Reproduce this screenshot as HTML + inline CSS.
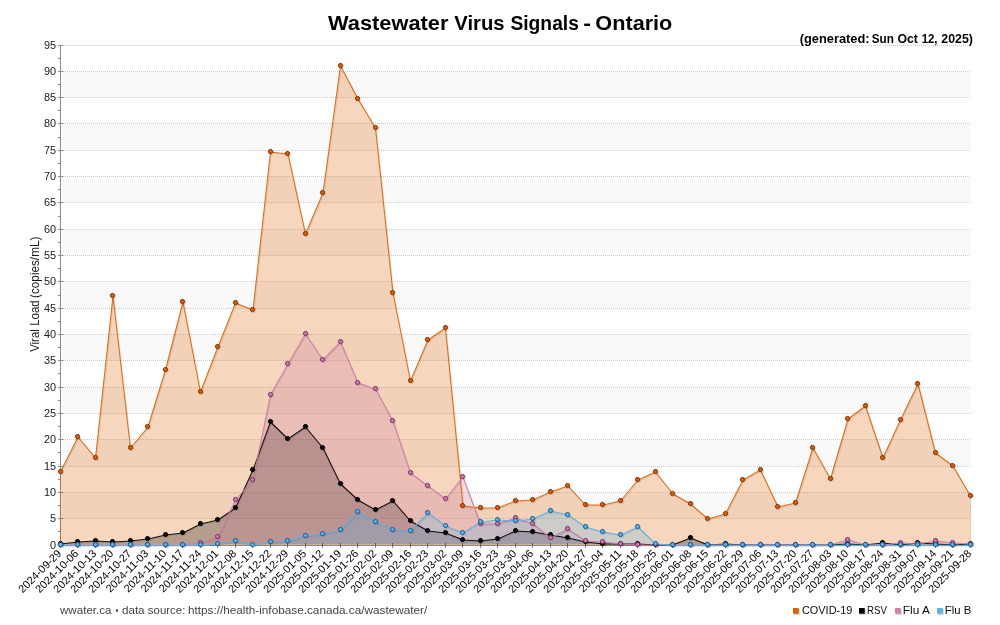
<!DOCTYPE html>
<html lang="en"><head><meta charset="utf-8"><title>Wastewater Virus Signals - Ontario</title>
<style>html,body{margin:0;padding:0;background:#fff;width:1000px;height:625px;overflow:hidden;}svg{display:block;}text{font-family:"Liberation Sans", sans-serif;}</style></head><body>
<svg width="1000" height="625" viewBox="0 0 1000 625" role="img" aria-label="Wastewater Virus Signals - Ontario">
<rect x="0" y="0" width="1000" height="625" fill="#ffffff"/>
<g shape-rendering="crispEdges">
<rect x="62" y="493" width="909" height="25" fill="#f9f9f9"/>
<rect x="62" y="440" width="909" height="26" fill="#f9f9f9"/>
<rect x="62" y="388" width="909" height="25" fill="#f9f9f9"/>
<rect x="62" y="335" width="909" height="25" fill="#f9f9f9"/>
<rect x="62" y="282" width="909" height="26" fill="#f9f9f9"/>
<rect x="62" y="230" width="909" height="25" fill="#f9f9f9"/>
<rect x="62" y="177" width="909" height="25" fill="#f9f9f9"/>
<rect x="62" y="124" width="909" height="26" fill="#f9f9f9"/>
<rect x="62" y="72" width="909" height="25" fill="#f9f9f9"/>
<line x1="61" x2="971" y1="518.5" y2="518.5" stroke="#c8c8c8" stroke-width="1" stroke-dasharray="1 1"/>
<line x1="61" x2="971" y1="492.5" y2="492.5" stroke="#c8c8c8" stroke-width="1" stroke-dasharray="1 1"/>
<line x1="61" x2="971" y1="466.5" y2="466.5" stroke="#c8c8c8" stroke-width="1" stroke-dasharray="1 1"/>
<line x1="61" x2="971" y1="439.5" y2="439.5" stroke="#c8c8c8" stroke-width="1" stroke-dasharray="1 1"/>
<line x1="61" x2="971" y1="413.5" y2="413.5" stroke="#c8c8c8" stroke-width="1" stroke-dasharray="1 1"/>
<line x1="61" x2="971" y1="387.5" y2="387.5" stroke="#c8c8c8" stroke-width="1" stroke-dasharray="1 1"/>
<line x1="61" x2="971" y1="360.5" y2="360.5" stroke="#c8c8c8" stroke-width="1" stroke-dasharray="1 1"/>
<line x1="61" x2="971" y1="334.5" y2="334.5" stroke="#c8c8c8" stroke-width="1" stroke-dasharray="1 1"/>
<line x1="61" x2="971" y1="308.5" y2="308.5" stroke="#c8c8c8" stroke-width="1" stroke-dasharray="1 1"/>
<line x1="61" x2="971" y1="281.5" y2="281.5" stroke="#c8c8c8" stroke-width="1" stroke-dasharray="1 1"/>
<line x1="61" x2="971" y1="255.5" y2="255.5" stroke="#c8c8c8" stroke-width="1" stroke-dasharray="1 1"/>
<line x1="61" x2="971" y1="229.5" y2="229.5" stroke="#c8c8c8" stroke-width="1" stroke-dasharray="1 1"/>
<line x1="61" x2="971" y1="202.5" y2="202.5" stroke="#c8c8c8" stroke-width="1" stroke-dasharray="1 1"/>
<line x1="61" x2="971" y1="176.5" y2="176.5" stroke="#c8c8c8" stroke-width="1" stroke-dasharray="1 1"/>
<line x1="61" x2="971" y1="150.5" y2="150.5" stroke="#c8c8c8" stroke-width="1" stroke-dasharray="1 1"/>
<line x1="61" x2="971" y1="123.5" y2="123.5" stroke="#c8c8c8" stroke-width="1" stroke-dasharray="1 1"/>
<line x1="61" x2="971" y1="97.5" y2="97.5" stroke="#c8c8c8" stroke-width="1" stroke-dasharray="1 1"/>
<line x1="61" x2="971" y1="71.5" y2="71.5" stroke="#c8c8c8" stroke-width="1" stroke-dasharray="1 1"/>
<line x1="61" x2="971" y1="45.5" y2="45.5" stroke="#c8c8c8" stroke-width="1" stroke-dasharray="1 1"/>
<rect x="60" y="45" width="1" height="501" fill="#8a8a8a"/>
<rect x="60" y="545" width="911" height="1" fill="#8a8a8a"/>
<rect x="58" y="545" width="5" height="1" fill="#8a8a8a"/>
<rect x="58" y="531" width="2" height="1" fill="#8a8a8a"/>
<rect x="58" y="518" width="5" height="1" fill="#8a8a8a"/>
<rect x="58" y="505" width="2" height="1" fill="#8a8a8a"/>
<rect x="58" y="492" width="5" height="1" fill="#8a8a8a"/>
<rect x="58" y="479" width="2" height="1" fill="#8a8a8a"/>
<rect x="58" y="466" width="5" height="1" fill="#8a8a8a"/>
<rect x="58" y="452" width="2" height="1" fill="#8a8a8a"/>
<rect x="58" y="439" width="5" height="1" fill="#8a8a8a"/>
<rect x="58" y="426" width="2" height="1" fill="#8a8a8a"/>
<rect x="58" y="413" width="5" height="1" fill="#8a8a8a"/>
<rect x="58" y="400" width="2" height="1" fill="#8a8a8a"/>
<rect x="58" y="387" width="5" height="1" fill="#8a8a8a"/>
<rect x="58" y="373" width="2" height="1" fill="#8a8a8a"/>
<rect x="58" y="360" width="5" height="1" fill="#8a8a8a"/>
<rect x="58" y="347" width="2" height="1" fill="#8a8a8a"/>
<rect x="58" y="334" width="5" height="1" fill="#8a8a8a"/>
<rect x="58" y="321" width="2" height="1" fill="#8a8a8a"/>
<rect x="58" y="308" width="5" height="1" fill="#8a8a8a"/>
<rect x="58" y="295" width="2" height="1" fill="#8a8a8a"/>
<rect x="58" y="281" width="5" height="1" fill="#8a8a8a"/>
<rect x="58" y="268" width="2" height="1" fill="#8a8a8a"/>
<rect x="58" y="255" width="5" height="1" fill="#8a8a8a"/>
<rect x="58" y="242" width="2" height="1" fill="#8a8a8a"/>
<rect x="58" y="229" width="5" height="1" fill="#8a8a8a"/>
<rect x="58" y="216" width="2" height="1" fill="#8a8a8a"/>
<rect x="58" y="202" width="5" height="1" fill="#8a8a8a"/>
<rect x="58" y="189" width="2" height="1" fill="#8a8a8a"/>
<rect x="58" y="176" width="5" height="1" fill="#8a8a8a"/>
<rect x="58" y="163" width="2" height="1" fill="#8a8a8a"/>
<rect x="58" y="150" width="5" height="1" fill="#8a8a8a"/>
<rect x="58" y="137" width="2" height="1" fill="#8a8a8a"/>
<rect x="58" y="123" width="5" height="1" fill="#8a8a8a"/>
<rect x="58" y="110" width="2" height="1" fill="#8a8a8a"/>
<rect x="58" y="97" width="5" height="1" fill="#8a8a8a"/>
<rect x="58" y="84" width="2" height="1" fill="#8a8a8a"/>
<rect x="58" y="71" width="5" height="1" fill="#8a8a8a"/>
<rect x="58" y="58" width="2" height="1" fill="#8a8a8a"/>
<rect x="58" y="45" width="5" height="1" fill="#8a8a8a"/>
</g>
<g font-size="10.9" fill="#1a1a1a" text-anchor="end">
<text x="56" y="548.7">0</text>
<text x="56" y="521.7">5</text>
<text x="56" y="495.7">10</text>
<text x="56" y="469.7">15</text>
<text x="56" y="442.7">20</text>
<text x="56" y="416.7">25</text>
<text x="56" y="390.7">30</text>
<text x="56" y="363.7">35</text>
<text x="56" y="337.7">40</text>
<text x="56" y="311.7">45</text>
<text x="56" y="284.7">50</text>
<text x="56" y="258.7">55</text>
<text x="56" y="232.7">60</text>
<text x="56" y="205.7">65</text>
<text x="56" y="179.7">70</text>
<text x="56" y="153.7">75</text>
<text x="56" y="126.7">80</text>
<text x="56" y="100.7">85</text>
<text x="56" y="74.7">90</text>
<text x="56" y="48.7">95</text>
</g>
<g font-size="10.9" fill="#000" text-anchor="end">
<text transform="translate(57.1,549.2) rotate(-45)" x="0" y="7">2024-09-29</text>
<text transform="translate(74.1,549.2) rotate(-45)" x="0" y="7">2024-10-06</text>
<text transform="translate(92.1,549.2) rotate(-45)" x="0" y="7">2024-10-13</text>
<text transform="translate(109.1,549.2) rotate(-45)" x="0" y="7">2024-10-20</text>
<text transform="translate(127.1,549.2) rotate(-45)" x="0" y="7">2024-10-27</text>
<text transform="translate(144.1,549.2) rotate(-45)" x="0" y="7">2024-11-03</text>
<text transform="translate(162.1,549.2) rotate(-45)" x="0" y="7">2024-11-10</text>
<text transform="translate(179.1,549.2) rotate(-45)" x="0" y="7">2024-11-17</text>
<text transform="translate(197.1,549.2) rotate(-45)" x="0" y="7">2024-11-24</text>
<text transform="translate(214.1,549.2) rotate(-45)" x="0" y="7">2024-12-01</text>
<text transform="translate(232.1,549.2) rotate(-45)" x="0" y="7">2024-12-08</text>
<text transform="translate(249.1,549.2) rotate(-45)" x="0" y="7">2024-12-15</text>
<text transform="translate(267.1,549.2) rotate(-45)" x="0" y="7">2024-12-22</text>
<text transform="translate(284.1,549.2) rotate(-45)" x="0" y="7">2024-12-29</text>
<text transform="translate(302.1,549.2) rotate(-45)" x="0" y="7">2025-01-05</text>
<text transform="translate(319.1,549.2) rotate(-45)" x="0" y="7">2025-01-12</text>
<text transform="translate(337.1,549.2) rotate(-45)" x="0" y="7">2025-01-19</text>
<text transform="translate(354.1,549.2) rotate(-45)" x="0" y="7">2025-01-26</text>
<text transform="translate(372.1,549.2) rotate(-45)" x="0" y="7">2025-02-02</text>
<text transform="translate(389.1,549.2) rotate(-45)" x="0" y="7">2025-02-09</text>
<text transform="translate(407.1,549.2) rotate(-45)" x="0" y="7">2025-02-16</text>
<text transform="translate(424.1,549.2) rotate(-45)" x="0" y="7">2025-02-23</text>
<text transform="translate(442.1,549.2) rotate(-45)" x="0" y="7">2025-03-02</text>
<text transform="translate(459.1,549.2) rotate(-45)" x="0" y="7">2025-03-09</text>
<text transform="translate(477.1,549.2) rotate(-45)" x="0" y="7">2025-03-16</text>
<text transform="translate(494.1,549.2) rotate(-45)" x="0" y="7">2025-03-23</text>
<text transform="translate(512.1,549.2) rotate(-45)" x="0" y="7">2025-03-30</text>
<text transform="translate(529.1,549.2) rotate(-45)" x="0" y="7">2025-04-06</text>
<text transform="translate(547.1,549.2) rotate(-45)" x="0" y="7">2025-04-13</text>
<text transform="translate(564.1,549.2) rotate(-45)" x="0" y="7">2025-04-20</text>
<text transform="translate(582.1,549.2) rotate(-45)" x="0" y="7">2025-04-27</text>
<text transform="translate(599.1,549.2) rotate(-45)" x="0" y="7">2025-05-04</text>
<text transform="translate(617.1,549.2) rotate(-45)" x="0" y="7">2025-05-11</text>
<text transform="translate(634.1,549.2) rotate(-45)" x="0" y="7">2025-05-18</text>
<text transform="translate(652.1,549.2) rotate(-45)" x="0" y="7">2025-05-25</text>
<text transform="translate(669.1,549.2) rotate(-45)" x="0" y="7">2025-06-01</text>
<text transform="translate(687.1,549.2) rotate(-45)" x="0" y="7">2025-06-08</text>
<text transform="translate(704.1,549.2) rotate(-45)" x="0" y="7">2025-06-15</text>
<text transform="translate(722.1,549.2) rotate(-45)" x="0" y="7">2025-06-22</text>
<text transform="translate(739.1,549.2) rotate(-45)" x="0" y="7">2025-06-29</text>
<text transform="translate(757.1,549.2) rotate(-45)" x="0" y="7">2025-07-06</text>
<text transform="translate(774.1,549.2) rotate(-45)" x="0" y="7">2025-07-13</text>
<text transform="translate(792.1,549.2) rotate(-45)" x="0" y="7">2025-07-20</text>
<text transform="translate(809.1,549.2) rotate(-45)" x="0" y="7">2025-07-27</text>
<text transform="translate(827.1,549.2) rotate(-45)" x="0" y="7">2025-08-03</text>
<text transform="translate(844.1,549.2) rotate(-45)" x="0" y="7">2025-08-10</text>
<text transform="translate(862.1,549.2) rotate(-45)" x="0" y="7">2025-08-17</text>
<text transform="translate(879.1,549.2) rotate(-45)" x="0" y="7">2025-08-24</text>
<text transform="translate(897.1,549.2) rotate(-45)" x="0" y="7">2025-08-31</text>
<text transform="translate(914.1,549.2) rotate(-45)" x="0" y="7">2025-09-07</text>
<text transform="translate(932.1,549.2) rotate(-45)" x="0" y="7">2025-09-14</text>
<text transform="translate(949.1,549.2) rotate(-45)" x="0" y="7">2025-09-21</text>
<text transform="translate(967.1,549.2) rotate(-45)" x="0" y="7">2025-09-28</text>
</g>
<path d="M60.5,544 L60.5,472.0 L78.0,437.0 L95.5,458.0 L113.0,296.0 L130.5,448.0 L148.0,427.0 L165.5,370.0 L183.0,302.0 L200.5,392.0 L218.0,347.0 L235.5,303.0 L253.0,310.0 L270.5,152.0 L288.0,154.0 L305.5,234.0 L323.0,193.0 L340.5,66.0 L358.0,99.0 L375.5,128.0 L393.0,293.0 L410.5,381.0 L428.0,340.0 L445.5,328.0 L463.0,506.0 L480.5,508.0 L498.0,508.0 L515.5,501.0 L533.0,500.0 L550.5,492.0 L568.0,486.0 L585.5,505.0 L603.0,505.0 L620.5,501.0 L638.0,480.0 L655.5,472.0 L673.0,494.0 L690.5,504.0 L708.0,519.0 L725.5,514.0 L743.0,480.0 L760.5,470.0 L778.0,507.0 L795.5,503.0 L813.0,448.0 L830.5,479.0 L848.0,419.0 L865.5,406.0 L883.0,458.0 L900.5,420.0 L918.0,384.0 L935.5,453.0 L953.0,466.0 L970.5,496.0 L970.5,544 Z" fill="#DC6000" fill-opacity="0.26" stroke="none"/>
<rect x="61" y="544" width="910" height="1" fill="#d6ae92" shape-rendering="crispEdges"/>
<rect x="60" y="471" width="1" height="74" fill="#DC6000" fill-opacity="0.38" shape-rendering="crispEdges"/>
<rect x="970" y="495" width="1" height="50" fill="#DC6000" fill-opacity="0.22" shape-rendering="crispEdges"/>
<path d="M60.5,544 L60.5,544.0 L78.0,542.0 L95.5,541.0 L113.0,542.0 L130.5,541.0 L148.0,539.0 L165.5,535.0 L183.0,533.0 L200.5,524.0 L218.0,520.0 L235.5,508.0 L253.0,470.0 L270.5,422.0 L288.0,439.0 L305.5,427.0 L323.0,448.0 L340.5,484.0 L358.0,500.0 L375.5,510.0 L393.0,501.0 L410.5,521.0 L428.0,531.0 L445.5,533.0 L463.0,540.0 L480.5,541.0 L498.0,539.0 L515.5,531.0 L533.0,532.0 L550.5,535.0 L568.0,538.0 L585.5,542.0 L603.0,544.0 L620.5,544.0 L638.0,544.0 L655.5,544.0 L673.0,544.0 L690.5,538.0 L708.0,544.0 L725.5,544.0 L743.0,544.0 L760.5,544.0 L778.0,544.0 L795.5,544.0 L813.0,544.0 L830.5,544.0 L848.0,544.0 L865.5,544.0 L883.0,543.0 L900.5,544.0 L918.0,543.0 L935.5,544.0 L953.0,544.0 L970.5,544.0 L970.5,544 Z" fill="#000000" fill-opacity="0.26" stroke="none"/>
<path d="M60.5,544 L60.5,544.0 L78.0,544.0 L95.5,544.0 L113.0,544.0 L130.5,544.0 L148.0,544.0 L165.5,544.0 L183.0,544.0 L200.5,543.0 L218.0,537.0 L235.5,500.0 L253.0,480.0 L270.5,395.0 L288.0,364.0 L305.5,334.0 L323.0,360.0 L340.5,342.0 L358.0,383.0 L375.5,389.0 L393.0,421.0 L410.5,473.0 L428.0,486.0 L445.5,499.0 L463.0,477.0 L480.5,524.0 L498.0,524.0 L515.5,518.0 L533.0,524.0 L550.5,538.0 L568.0,529.0 L585.5,541.0 L603.0,542.0 L620.5,544.0 L638.0,544.0 L655.5,544.0 L673.0,544.0 L690.5,544.0 L708.0,544.0 L725.5,544.0 L743.0,544.0 L760.5,544.0 L778.0,544.0 L795.5,544.0 L813.0,544.0 L830.5,544.0 L848.0,540.0 L865.5,544.0 L883.0,544.0 L900.5,543.0 L918.0,544.0 L935.5,541.0 L953.0,543.0 L970.5,544.0 L970.5,544 Z" fill="#CC79A7" fill-opacity="0.26" stroke="none"/>
<path d="M60.5,544 L60.5,544.0 L78.0,544.0 L95.5,544.0 L113.0,544.0 L130.5,544.0 L148.0,544.0 L165.5,544.0 L183.0,544.0 L200.5,544.0 L218.0,544.0 L235.5,541.0 L253.0,544.0 L270.5,542.0 L288.0,541.0 L305.5,536.0 L323.0,534.0 L340.5,530.0 L358.0,512.0 L375.5,522.0 L393.0,530.0 L410.5,531.0 L428.0,513.0 L445.5,526.0 L463.0,533.0 L480.5,522.0 L498.0,520.0 L515.5,521.0 L533.0,519.0 L550.5,511.0 L568.0,515.0 L585.5,527.0 L603.0,532.0 L620.5,535.0 L638.0,527.0 L655.5,544.0 L673.0,544.0 L690.5,544.0 L708.0,544.0 L725.5,544.0 L743.0,544.0 L760.5,544.0 L778.0,544.0 L795.5,544.0 L813.0,544.0 L830.5,544.0 L848.0,544.0 L865.5,544.0 L883.0,544.0 L900.5,544.0 L918.0,544.0 L935.5,544.0 L953.0,544.0 L970.5,544.0 L970.5,544 Z" fill="#56B4E9" fill-opacity="0.26" stroke="none"/>
<g shape-rendering="crispEdges" fill="#000" fill-opacity="0.45">
<rect x="60" y="543" width="1" height="5"/>
<rect x="77" y="543" width="1" height="5"/>
<rect x="95" y="543" width="1" height="5"/>
<rect x="112" y="543" width="1" height="5"/>
<rect x="130" y="543" width="1" height="5"/>
<rect x="147" y="543" width="1" height="5"/>
<rect x="165" y="543" width="1" height="5"/>
<rect x="182" y="543" width="1" height="5"/>
<rect x="200" y="543" width="1" height="5"/>
<rect x="217" y="543" width="1" height="5"/>
<rect x="235" y="543" width="1" height="5"/>
<rect x="252" y="543" width="1" height="5"/>
<rect x="270" y="543" width="1" height="5"/>
<rect x="287" y="543" width="1" height="5"/>
<rect x="305" y="543" width="1" height="5"/>
<rect x="322" y="543" width="1" height="5"/>
<rect x="340" y="543" width="1" height="5"/>
<rect x="357" y="543" width="1" height="5"/>
<rect x="375" y="543" width="1" height="5"/>
<rect x="392" y="543" width="1" height="5"/>
<rect x="410" y="543" width="1" height="5"/>
<rect x="427" y="543" width="1" height="5"/>
<rect x="445" y="543" width="1" height="5"/>
<rect x="462" y="543" width="1" height="5"/>
<rect x="480" y="543" width="1" height="5"/>
<rect x="497" y="543" width="1" height="5"/>
<rect x="515" y="543" width="1" height="5"/>
<rect x="532" y="543" width="1" height="5"/>
<rect x="550" y="543" width="1" height="5"/>
<rect x="567" y="543" width="1" height="5"/>
<rect x="585" y="543" width="1" height="5"/>
<rect x="602" y="543" width="1" height="5"/>
<rect x="620" y="543" width="1" height="5"/>
<rect x="637" y="543" width="1" height="5"/>
<rect x="655" y="543" width="1" height="5"/>
<rect x="672" y="543" width="1" height="5"/>
<rect x="690" y="543" width="1" height="5"/>
<rect x="707" y="543" width="1" height="5"/>
<rect x="725" y="543" width="1" height="5"/>
<rect x="742" y="543" width="1" height="5"/>
<rect x="760" y="543" width="1" height="5"/>
<rect x="777" y="543" width="1" height="5"/>
<rect x="795" y="543" width="1" height="5"/>
<rect x="812" y="543" width="1" height="5"/>
<rect x="830" y="543" width="1" height="5"/>
<rect x="847" y="543" width="1" height="5"/>
<rect x="865" y="543" width="1" height="5"/>
<rect x="882" y="543" width="1" height="5"/>
<rect x="900" y="543" width="1" height="5"/>
<rect x="917" y="543" width="1" height="5"/>
<rect x="935" y="543" width="1" height="5"/>
<rect x="952" y="543" width="1" height="5"/>
<rect x="970" y="543" width="1" height="5"/>
</g>
<path d="M60.5,472.0 L78.0,437.0 L95.5,458.0 L113.0,296.0 L130.5,448.0 L148.0,427.0 L165.5,370.0 L183.0,302.0 L200.5,392.0 L218.0,347.0 L235.5,303.0 L253.0,310.0 L270.5,152.0 L288.0,154.0 L305.5,234.0 L323.0,193.0 L340.5,66.0 L358.0,99.0 L375.5,128.0 L393.0,293.0 L410.5,381.0 L428.0,340.0 L445.5,328.0 L463.0,506.0 L480.5,508.0 L498.0,508.0 L515.5,501.0 L533.0,500.0 L550.5,492.0 L568.0,486.0 L585.5,505.0 L603.0,505.0 L620.5,501.0 L638.0,480.0 L655.5,472.0 L673.0,494.0 L690.5,504.0 L708.0,519.0 L725.5,514.0 L743.0,480.0 L760.5,470.0 L778.0,507.0 L795.5,503.0 L813.0,448.0 L830.5,479.0 L848.0,419.0 L865.5,406.0 L883.0,458.0 L900.5,420.0 L918.0,384.0 L935.5,453.0 L953.0,466.0 L970.5,496.0" fill="none" stroke="#000" stroke-opacity="0.08" stroke-width="1.10" transform="translate(1,1)"/>
<path d="M60.5,472.0 L78.0,437.0 L95.5,458.0 L113.0,296.0 L130.5,448.0 L148.0,427.0 L165.5,370.0 L183.0,302.0 L200.5,392.0 L218.0,347.0 L235.5,303.0 L253.0,310.0 L270.5,152.0 L288.0,154.0 L305.5,234.0 L323.0,193.0 L340.5,66.0 L358.0,99.0 L375.5,128.0 L393.0,293.0 L410.5,381.0 L428.0,340.0 L445.5,328.0 L463.0,506.0 L480.5,508.0 L498.0,508.0 L515.5,501.0 L533.0,500.0 L550.5,492.0 L568.0,486.0 L585.5,505.0 L603.0,505.0 L620.5,501.0 L638.0,480.0 L655.5,472.0 L673.0,494.0 L690.5,504.0 L708.0,519.0 L725.5,514.0 L743.0,480.0 L760.5,470.0 L778.0,507.0 L795.5,503.0 L813.0,448.0 L830.5,479.0 L848.0,419.0 L865.5,406.0 L883.0,458.0 L900.5,420.0 L918.0,384.0 L935.5,453.0 L953.0,466.0 L970.5,496.0" fill="none" stroke="#DC6000" stroke-opacity="0.90" stroke-width="1.10" stroke-linejoin="round"/>
<path d="M60.5,544.0 L78.0,542.0 L95.5,541.0 L113.0,542.0 L130.5,541.0 L148.0,539.0 L165.5,535.0 L183.0,533.0 L200.5,524.0 L218.0,520.0 L235.5,508.0 L253.0,470.0 L270.5,422.0 L288.0,439.0 L305.5,427.0 L323.0,448.0 L340.5,484.0 L358.0,500.0 L375.5,510.0 L393.0,501.0 L410.5,521.0 L428.0,531.0 L445.5,533.0 L463.0,540.0 L480.5,541.0 L498.0,539.0 L515.5,531.0 L533.0,532.0 L550.5,535.0 L568.0,538.0 L585.5,542.0 L603.0,544.0 L620.5,544.0 L638.0,544.0 L655.5,545.0 L673.0,545.0 L690.5,538.0 L708.0,545.0 L725.5,544.0 L743.0,545.0 L760.5,545.0 L778.0,545.0 L795.5,545.0 L813.0,545.0 L830.5,545.0 L848.0,544.0 L865.5,545.0 L883.0,543.0 L900.5,545.0 L918.0,543.0 L935.5,544.0 L953.0,545.0 L970.5,544.0" fill="none" stroke="#000" stroke-opacity="0.08" stroke-width="1.10" transform="translate(1,1)"/>
<path d="M60.5,544.0 L78.0,542.0 L95.5,541.0 L113.0,542.0 L130.5,541.0 L148.0,539.0 L165.5,535.0 L183.0,533.0 L200.5,524.0 L218.0,520.0 L235.5,508.0 L253.0,470.0 L270.5,422.0 L288.0,439.0 L305.5,427.0 L323.0,448.0 L340.5,484.0 L358.0,500.0 L375.5,510.0 L393.0,501.0 L410.5,521.0 L428.0,531.0 L445.5,533.0 L463.0,540.0 L480.5,541.0 L498.0,539.0 L515.5,531.0 L533.0,532.0 L550.5,535.0 L568.0,538.0 L585.5,542.0 L603.0,544.0 L620.5,544.0 L638.0,544.0 L655.5,545.0 L673.0,545.0 L690.5,538.0 L708.0,545.0 L725.5,544.0 L743.0,545.0 L760.5,545.0 L778.0,545.0 L795.5,545.0 L813.0,545.0 L830.5,545.0 L848.0,544.0 L865.5,545.0 L883.0,543.0 L900.5,545.0 L918.0,543.0 L935.5,544.0 L953.0,545.0 L970.5,544.0" fill="none" stroke="#000000" stroke-opacity="0.90" stroke-width="1.10" stroke-linejoin="round"/>
<path d="M60.5,545.0 L78.0,545.0 L95.5,545.0 L113.0,545.0 L130.5,545.0 L148.0,545.0 L165.5,545.0 L183.0,545.0 L200.5,543.0 L218.0,537.0 L235.5,500.0 L253.0,480.0 L270.5,395.0 L288.0,364.0 L305.5,334.0 L323.0,360.0 L340.5,342.0 L358.0,383.0 L375.5,389.0 L393.0,421.0 L410.5,473.0 L428.0,486.0 L445.5,499.0 L463.0,477.0 L480.5,524.0 L498.0,524.0 L515.5,518.0 L533.0,524.0 L550.5,538.0 L568.0,529.0 L585.5,541.0 L603.0,542.0 L620.5,544.0 L638.0,545.0 L655.5,545.0 L673.0,545.0 L690.5,545.0 L708.0,545.0 L725.5,545.0 L743.0,545.0 L760.5,545.0 L778.0,545.0 L795.5,545.0 L813.0,545.0 L830.5,545.0 L848.0,540.0 L865.5,545.0 L883.0,545.0 L900.5,543.0 L918.0,544.0 L935.5,541.0 L953.0,543.0 L970.5,544.0" fill="none" stroke="#000" stroke-opacity="0.08" stroke-width="1.10" transform="translate(1,1)"/>
<path d="M60.5,545.0 L78.0,545.0 L95.5,545.0 L113.0,545.0 L130.5,545.0 L148.0,545.0 L165.5,545.0 L183.0,545.0 L200.5,543.0 L218.0,537.0 L235.5,500.0 L253.0,480.0 L270.5,395.0 L288.0,364.0 L305.5,334.0 L323.0,360.0 L340.5,342.0 L358.0,383.0 L375.5,389.0 L393.0,421.0 L410.5,473.0 L428.0,486.0 L445.5,499.0 L463.0,477.0 L480.5,524.0 L498.0,524.0 L515.5,518.0 L533.0,524.0 L550.5,538.0 L568.0,529.0 L585.5,541.0 L603.0,542.0 L620.5,544.0 L638.0,545.0 L655.5,545.0 L673.0,545.0 L690.5,545.0 L708.0,545.0 L725.5,545.0 L743.0,545.0 L760.5,545.0 L778.0,545.0 L795.5,545.0 L813.0,545.0 L830.5,545.0 L848.0,540.0 L865.5,545.0 L883.0,545.0 L900.5,543.0 L918.0,544.0 L935.5,541.0 L953.0,543.0 L970.5,544.0" fill="none" stroke="#CC79A7" stroke-opacity="0.90" stroke-width="1.10" stroke-linejoin="round"/>
<path d="M60.5,545.4 L78.0,545.4 L95.5,545.4 L113.0,545.4 L130.5,545.4 L148.0,545.4 L165.5,545.4 L183.0,545.4 L200.5,545.4 L218.0,544.0 L235.5,541.0 L253.0,545.4 L270.5,542.0 L288.0,541.0 L305.5,536.0 L323.0,534.0 L340.5,530.0 L358.0,512.0 L375.5,522.0 L393.0,530.0 L410.5,531.0 L428.0,513.0 L445.5,526.0 L463.0,533.0 L480.5,522.0 L498.0,520.0 L515.5,521.0 L533.0,519.0 L550.5,511.0 L568.0,515.0 L585.5,527.0 L603.0,532.0 L620.5,535.0 L638.0,527.0 L655.5,544.0 L673.0,545.4 L690.5,545.4 L708.0,545.4 L725.5,545.4 L743.0,545.4 L760.5,545.4 L778.0,545.4 L795.5,545.4 L813.0,545.4 L830.5,545.4 L848.0,545.4 L865.5,545.4 L883.0,545.4 L900.5,545.4 L918.0,545.4 L935.5,545.4 L953.0,545.4 L970.5,545.4" fill="none" stroke="#000" stroke-opacity="0.08" stroke-width="1.10" transform="translate(1,1)"/>
<path d="M60.5,545.4 L78.0,545.4 L95.5,545.4 L113.0,545.4 L130.5,545.4 L148.0,545.4 L165.5,545.4 L183.0,545.4 L200.5,545.4 L218.0,544.0 L235.5,541.0 L253.0,545.4 L270.5,542.0 L288.0,541.0 L305.5,536.0 L323.0,534.0 L340.5,530.0 L358.0,512.0 L375.5,522.0 L393.0,530.0 L410.5,531.0 L428.0,513.0 L445.5,526.0 L463.0,533.0 L480.5,522.0 L498.0,520.0 L515.5,521.0 L533.0,519.0 L550.5,511.0 L568.0,515.0 L585.5,527.0 L603.0,532.0 L620.5,535.0 L638.0,527.0 L655.5,544.0 L673.0,545.4 L690.5,545.4 L708.0,545.4 L725.5,545.4 L743.0,545.4 L760.5,545.4 L778.0,545.4 L795.5,545.4 L813.0,545.4 L830.5,545.4 L848.0,545.4 L865.5,545.4 L883.0,545.4 L900.5,545.4 L918.0,545.4 L935.5,545.4 L953.0,545.4 L970.5,545.4" fill="none" stroke="#56B4E9" stroke-opacity="0.90" stroke-width="1.10" stroke-linejoin="round"/>
<g fill="#000" fill-opacity="0.10"><circle cx="61.5" cy="472.5" r="2.6"/><circle cx="78.5" cy="437.5" r="2.6"/><circle cx="96.5" cy="458.5" r="2.6"/><circle cx="113.5" cy="296.5" r="2.6"/><circle cx="131.5" cy="448.5" r="2.6"/><circle cx="148.5" cy="427.5" r="2.6"/><circle cx="166.5" cy="370.5" r="2.6"/><circle cx="183.5" cy="302.5" r="2.6"/><circle cx="201.5" cy="392.5" r="2.6"/><circle cx="218.5" cy="347.5" r="2.6"/><circle cx="236.5" cy="303.5" r="2.6"/><circle cx="253.5" cy="310.5" r="2.6"/><circle cx="271.5" cy="152.5" r="2.6"/><circle cx="288.5" cy="154.5" r="2.6"/><circle cx="306.5" cy="234.5" r="2.6"/><circle cx="323.5" cy="193.5" r="2.6"/><circle cx="341.5" cy="66.5" r="2.6"/><circle cx="358.5" cy="99.5" r="2.6"/><circle cx="376.5" cy="128.5" r="2.6"/><circle cx="393.5" cy="293.5" r="2.6"/><circle cx="411.5" cy="381.5" r="2.6"/><circle cx="428.5" cy="340.5" r="2.6"/><circle cx="446.5" cy="328.5" r="2.6"/><circle cx="463.5" cy="506.5" r="2.6"/><circle cx="481.5" cy="508.5" r="2.6"/><circle cx="498.5" cy="508.5" r="2.6"/><circle cx="516.5" cy="501.5" r="2.6"/><circle cx="533.5" cy="500.5" r="2.6"/><circle cx="551.5" cy="492.5" r="2.6"/><circle cx="568.5" cy="486.5" r="2.6"/><circle cx="586.5" cy="505.5" r="2.6"/><circle cx="603.5" cy="505.5" r="2.6"/><circle cx="621.5" cy="501.5" r="2.6"/><circle cx="638.5" cy="480.5" r="2.6"/><circle cx="656.5" cy="472.5" r="2.6"/><circle cx="673.5" cy="494.5" r="2.6"/><circle cx="691.5" cy="504.5" r="2.6"/><circle cx="708.5" cy="519.5" r="2.6"/><circle cx="726.5" cy="514.5" r="2.6"/><circle cx="743.5" cy="480.5" r="2.6"/><circle cx="761.5" cy="470.5" r="2.6"/><circle cx="778.5" cy="507.5" r="2.6"/><circle cx="796.5" cy="503.5" r="2.6"/><circle cx="813.5" cy="448.5" r="2.6"/><circle cx="831.5" cy="479.5" r="2.6"/><circle cx="848.5" cy="419.5" r="2.6"/><circle cx="866.5" cy="406.5" r="2.6"/><circle cx="883.5" cy="458.5" r="2.6"/><circle cx="901.5" cy="420.5" r="2.6"/><circle cx="918.5" cy="384.5" r="2.6"/><circle cx="936.5" cy="453.5" r="2.6"/><circle cx="953.5" cy="466.5" r="2.6"/><circle cx="971.5" cy="496.5" r="2.6"/></g>
<g fill="#DC6000" stroke="#842e05" stroke-width="1.0">
<circle cx="60.5" cy="471.5" r="2.1"/>
<circle cx="77.5" cy="436.5" r="2.1"/>
<circle cx="95.5" cy="457.5" r="2.1"/>
<circle cx="112.5" cy="295.5" r="2.1"/>
<circle cx="130.5" cy="447.5" r="2.1"/>
<circle cx="147.5" cy="426.5" r="2.1"/>
<circle cx="165.5" cy="369.5" r="2.1"/>
<circle cx="182.5" cy="301.5" r="2.1"/>
<circle cx="200.5" cy="391.5" r="2.1"/>
<circle cx="217.5" cy="346.5" r="2.1"/>
<circle cx="235.5" cy="302.5" r="2.1"/>
<circle cx="252.5" cy="309.5" r="2.1"/>
<circle cx="270.5" cy="151.5" r="2.1"/>
<circle cx="287.5" cy="153.5" r="2.1"/>
<circle cx="305.5" cy="233.5" r="2.1"/>
<circle cx="322.5" cy="192.5" r="2.1"/>
<circle cx="340.5" cy="65.5" r="2.1"/>
<circle cx="357.5" cy="98.5" r="2.1"/>
<circle cx="375.5" cy="127.5" r="2.1"/>
<circle cx="392.5" cy="292.5" r="2.1"/>
<circle cx="410.5" cy="380.5" r="2.1"/>
<circle cx="427.5" cy="339.5" r="2.1"/>
<circle cx="445.5" cy="327.5" r="2.1"/>
<circle cx="462.5" cy="505.5" r="2.1"/>
<circle cx="480.5" cy="507.5" r="2.1"/>
<circle cx="497.5" cy="507.5" r="2.1"/>
<circle cx="515.5" cy="500.5" r="2.1"/>
<circle cx="532.5" cy="499.5" r="2.1"/>
<circle cx="550.5" cy="491.5" r="2.1"/>
<circle cx="567.5" cy="485.5" r="2.1"/>
<circle cx="585.5" cy="504.5" r="2.1"/>
<circle cx="602.5" cy="504.5" r="2.1"/>
<circle cx="620.5" cy="500.5" r="2.1"/>
<circle cx="637.5" cy="479.5" r="2.1"/>
<circle cx="655.5" cy="471.5" r="2.1"/>
<circle cx="672.5" cy="493.5" r="2.1"/>
<circle cx="690.5" cy="503.5" r="2.1"/>
<circle cx="707.5" cy="518.5" r="2.1"/>
<circle cx="725.5" cy="513.5" r="2.1"/>
<circle cx="742.5" cy="479.5" r="2.1"/>
<circle cx="760.5" cy="469.5" r="2.1"/>
<circle cx="777.5" cy="506.5" r="2.1"/>
<circle cx="795.5" cy="502.5" r="2.1"/>
<circle cx="812.5" cy="447.5" r="2.1"/>
<circle cx="830.5" cy="478.5" r="2.1"/>
<circle cx="847.5" cy="418.5" r="2.1"/>
<circle cx="865.5" cy="405.5" r="2.1"/>
<circle cx="882.5" cy="457.5" r="2.1"/>
<circle cx="900.5" cy="419.5" r="2.1"/>
<circle cx="917.5" cy="383.5" r="2.1"/>
<circle cx="935.5" cy="452.5" r="2.1"/>
<circle cx="952.5" cy="465.5" r="2.1"/>
<circle cx="970.5" cy="495.5" r="2.1"/>
</g>
<g fill="#000" fill-opacity="0.10"><circle cx="61.5" cy="544.5" r="2.6"/><circle cx="78.5" cy="542.5" r="2.6"/><circle cx="96.5" cy="541.5" r="2.6"/><circle cx="113.5" cy="542.5" r="2.6"/><circle cx="131.5" cy="541.5" r="2.6"/><circle cx="148.5" cy="539.5" r="2.6"/><circle cx="166.5" cy="535.5" r="2.6"/><circle cx="183.5" cy="533.5" r="2.6"/><circle cx="201.5" cy="524.5" r="2.6"/><circle cx="218.5" cy="520.5" r="2.6"/><circle cx="236.5" cy="508.5" r="2.6"/><circle cx="253.5" cy="470.5" r="2.6"/><circle cx="271.5" cy="422.5" r="2.6"/><circle cx="288.5" cy="439.5" r="2.6"/><circle cx="306.5" cy="427.5" r="2.6"/><circle cx="323.5" cy="448.5" r="2.6"/><circle cx="341.5" cy="484.5" r="2.6"/><circle cx="358.5" cy="500.5" r="2.6"/><circle cx="376.5" cy="510.5" r="2.6"/><circle cx="393.5" cy="501.5" r="2.6"/><circle cx="411.5" cy="521.5" r="2.6"/><circle cx="428.5" cy="531.5" r="2.6"/><circle cx="446.5" cy="533.5" r="2.6"/><circle cx="463.5" cy="540.5" r="2.6"/><circle cx="481.5" cy="541.5" r="2.6"/><circle cx="498.5" cy="539.5" r="2.6"/><circle cx="516.5" cy="531.5" r="2.6"/><circle cx="533.5" cy="532.5" r="2.6"/><circle cx="551.5" cy="535.5" r="2.6"/><circle cx="568.5" cy="538.5" r="2.6"/><circle cx="586.5" cy="542.5" r="2.6"/><circle cx="603.5" cy="544.5" r="2.6"/><circle cx="621.5" cy="544.5" r="2.6"/><circle cx="638.5" cy="544.5" r="2.6"/><circle cx="656.5" cy="545.5" r="2.6"/><circle cx="673.5" cy="545.5" r="2.6"/><circle cx="691.5" cy="538.5" r="2.6"/><circle cx="708.5" cy="545.5" r="2.6"/><circle cx="726.5" cy="544.5" r="2.6"/><circle cx="743.5" cy="545.5" r="2.6"/><circle cx="761.5" cy="545.5" r="2.6"/><circle cx="778.5" cy="545.5" r="2.6"/><circle cx="796.5" cy="545.5" r="2.6"/><circle cx="813.5" cy="545.5" r="2.6"/><circle cx="831.5" cy="545.5" r="2.6"/><circle cx="848.5" cy="544.5" r="2.6"/><circle cx="866.5" cy="545.5" r="2.6"/><circle cx="883.5" cy="543.5" r="2.6"/><circle cx="901.5" cy="545.5" r="2.6"/><circle cx="918.5" cy="543.5" r="2.6"/><circle cx="936.5" cy="544.5" r="2.6"/><circle cx="953.5" cy="545.5" r="2.6"/><circle cx="971.5" cy="544.5" r="2.6"/></g>
<g fill="#000000" stroke="#000000" stroke-width="1.0">
<circle cx="60.5" cy="543.5" r="2.1"/>
<circle cx="77.5" cy="541.5" r="2.1"/>
<circle cx="95.5" cy="540.5" r="2.1"/>
<circle cx="112.5" cy="541.5" r="2.1"/>
<circle cx="130.5" cy="540.5" r="2.1"/>
<circle cx="147.5" cy="538.5" r="2.1"/>
<circle cx="165.5" cy="534.5" r="2.1"/>
<circle cx="182.5" cy="532.5" r="2.1"/>
<circle cx="200.5" cy="523.5" r="2.1"/>
<circle cx="217.5" cy="519.5" r="2.1"/>
<circle cx="235.5" cy="507.5" r="2.1"/>
<circle cx="252.5" cy="469.5" r="2.1"/>
<circle cx="270.5" cy="421.5" r="2.1"/>
<circle cx="287.5" cy="438.5" r="2.1"/>
<circle cx="305.5" cy="426.5" r="2.1"/>
<circle cx="322.5" cy="447.5" r="2.1"/>
<circle cx="340.5" cy="483.5" r="2.1"/>
<circle cx="357.5" cy="499.5" r="2.1"/>
<circle cx="375.5" cy="509.5" r="2.1"/>
<circle cx="392.5" cy="500.5" r="2.1"/>
<circle cx="410.5" cy="520.5" r="2.1"/>
<circle cx="427.5" cy="530.5" r="2.1"/>
<circle cx="445.5" cy="532.5" r="2.1"/>
<circle cx="462.5" cy="539.5" r="2.1"/>
<circle cx="480.5" cy="540.5" r="2.1"/>
<circle cx="497.5" cy="538.5" r="2.1"/>
<circle cx="515.5" cy="530.5" r="2.1"/>
<circle cx="532.5" cy="531.5" r="2.1"/>
<circle cx="550.5" cy="534.5" r="2.1"/>
<circle cx="567.5" cy="537.5" r="2.1"/>
<circle cx="585.5" cy="541.5" r="2.1"/>
<circle cx="602.5" cy="543.5" r="2.1"/>
<circle cx="620.5" cy="543.5" r="2.1"/>
<circle cx="637.5" cy="543.5" r="2.1"/>
<circle cx="655.5" cy="544.5" r="2.1"/>
<circle cx="672.5" cy="544.5" r="2.1"/>
<circle cx="690.5" cy="537.5" r="2.1"/>
<circle cx="707.5" cy="544.5" r="2.1"/>
<circle cx="725.5" cy="543.5" r="2.1"/>
<circle cx="742.5" cy="544.5" r="2.1"/>
<circle cx="760.5" cy="544.5" r="2.1"/>
<circle cx="777.5" cy="544.5" r="2.1"/>
<circle cx="795.5" cy="544.5" r="2.1"/>
<circle cx="812.5" cy="544.5" r="2.1"/>
<circle cx="830.5" cy="544.5" r="2.1"/>
<circle cx="847.5" cy="543.5" r="2.1"/>
<circle cx="865.5" cy="544.5" r="2.1"/>
<circle cx="882.5" cy="542.5" r="2.1"/>
<circle cx="900.5" cy="544.5" r="2.1"/>
<circle cx="917.5" cy="542.5" r="2.1"/>
<circle cx="935.5" cy="543.5" r="2.1"/>
<circle cx="952.5" cy="544.5" r="2.1"/>
<circle cx="970.5" cy="543.5" r="2.1"/>
</g>
<g fill="#000" fill-opacity="0.10"><circle cx="61.5" cy="545.5" r="2.6"/><circle cx="78.5" cy="545.5" r="2.6"/><circle cx="96.5" cy="545.5" r="2.6"/><circle cx="113.5" cy="545.5" r="2.6"/><circle cx="131.5" cy="545.5" r="2.6"/><circle cx="148.5" cy="545.5" r="2.6"/><circle cx="166.5" cy="545.5" r="2.6"/><circle cx="183.5" cy="545.5" r="2.6"/><circle cx="201.5" cy="543.5" r="2.6"/><circle cx="218.5" cy="537.5" r="2.6"/><circle cx="236.5" cy="500.5" r="2.6"/><circle cx="253.5" cy="480.5" r="2.6"/><circle cx="271.5" cy="395.5" r="2.6"/><circle cx="288.5" cy="364.5" r="2.6"/><circle cx="306.5" cy="334.5" r="2.6"/><circle cx="323.5" cy="360.5" r="2.6"/><circle cx="341.5" cy="342.5" r="2.6"/><circle cx="358.5" cy="383.5" r="2.6"/><circle cx="376.5" cy="389.5" r="2.6"/><circle cx="393.5" cy="421.5" r="2.6"/><circle cx="411.5" cy="473.5" r="2.6"/><circle cx="428.5" cy="486.5" r="2.6"/><circle cx="446.5" cy="499.5" r="2.6"/><circle cx="463.5" cy="477.5" r="2.6"/><circle cx="481.5" cy="524.5" r="2.6"/><circle cx="498.5" cy="524.5" r="2.6"/><circle cx="516.5" cy="518.5" r="2.6"/><circle cx="533.5" cy="524.5" r="2.6"/><circle cx="551.5" cy="538.5" r="2.6"/><circle cx="568.5" cy="529.5" r="2.6"/><circle cx="586.5" cy="541.5" r="2.6"/><circle cx="603.5" cy="542.5" r="2.6"/><circle cx="621.5" cy="544.5" r="2.6"/><circle cx="638.5" cy="545.5" r="2.6"/><circle cx="656.5" cy="545.5" r="2.6"/><circle cx="673.5" cy="545.5" r="2.6"/><circle cx="691.5" cy="545.5" r="2.6"/><circle cx="708.5" cy="545.5" r="2.6"/><circle cx="726.5" cy="545.5" r="2.6"/><circle cx="743.5" cy="545.5" r="2.6"/><circle cx="761.5" cy="545.5" r="2.6"/><circle cx="778.5" cy="545.5" r="2.6"/><circle cx="796.5" cy="545.5" r="2.6"/><circle cx="813.5" cy="545.5" r="2.6"/><circle cx="831.5" cy="545.5" r="2.6"/><circle cx="848.5" cy="540.5" r="2.6"/><circle cx="866.5" cy="545.5" r="2.6"/><circle cx="883.5" cy="545.5" r="2.6"/><circle cx="901.5" cy="543.5" r="2.6"/><circle cx="918.5" cy="544.5" r="2.6"/><circle cx="936.5" cy="541.5" r="2.6"/><circle cx="953.5" cy="543.5" r="2.6"/><circle cx="971.5" cy="544.5" r="2.6"/></g>
<g fill="#CC79A7" stroke="#78336d" stroke-width="1.0">
<circle cx="60.5" cy="544.5" r="2.1"/>
<circle cx="77.5" cy="544.5" r="2.1"/>
<circle cx="95.5" cy="544.5" r="2.1"/>
<circle cx="112.5" cy="544.5" r="2.1"/>
<circle cx="130.5" cy="544.5" r="2.1"/>
<circle cx="147.5" cy="544.5" r="2.1"/>
<circle cx="165.5" cy="544.5" r="2.1"/>
<circle cx="182.5" cy="544.5" r="2.1"/>
<circle cx="200.5" cy="542.5" r="2.1"/>
<circle cx="217.5" cy="536.5" r="2.1"/>
<circle cx="235.5" cy="499.5" r="2.1"/>
<circle cx="252.5" cy="479.5" r="2.1"/>
<circle cx="270.5" cy="394.5" r="2.1"/>
<circle cx="287.5" cy="363.5" r="2.1"/>
<circle cx="305.5" cy="333.5" r="2.1"/>
<circle cx="322.5" cy="359.5" r="2.1"/>
<circle cx="340.5" cy="341.5" r="2.1"/>
<circle cx="357.5" cy="382.5" r="2.1"/>
<circle cx="375.5" cy="388.5" r="2.1"/>
<circle cx="392.5" cy="420.5" r="2.1"/>
<circle cx="410.5" cy="472.5" r="2.1"/>
<circle cx="427.5" cy="485.5" r="2.1"/>
<circle cx="445.5" cy="498.5" r="2.1"/>
<circle cx="462.5" cy="476.5" r="2.1"/>
<circle cx="480.5" cy="523.5" r="2.1"/>
<circle cx="497.5" cy="523.5" r="2.1"/>
<circle cx="515.5" cy="517.5" r="2.1"/>
<circle cx="532.5" cy="523.5" r="2.1"/>
<circle cx="550.5" cy="537.5" r="2.1"/>
<circle cx="567.5" cy="528.5" r="2.1"/>
<circle cx="585.5" cy="540.5" r="2.1"/>
<circle cx="602.5" cy="541.5" r="2.1"/>
<circle cx="620.5" cy="543.5" r="2.1"/>
<circle cx="637.5" cy="544.5" r="2.1"/>
<circle cx="655.5" cy="544.5" r="2.1"/>
<circle cx="672.5" cy="544.5" r="2.1"/>
<circle cx="690.5" cy="544.5" r="2.1"/>
<circle cx="707.5" cy="544.5" r="2.1"/>
<circle cx="725.5" cy="544.5" r="2.1"/>
<circle cx="742.5" cy="544.5" r="2.1"/>
<circle cx="760.5" cy="544.5" r="2.1"/>
<circle cx="777.5" cy="544.5" r="2.1"/>
<circle cx="795.5" cy="544.5" r="2.1"/>
<circle cx="812.5" cy="544.5" r="2.1"/>
<circle cx="830.5" cy="544.5" r="2.1"/>
<circle cx="847.5" cy="539.5" r="2.1"/>
<circle cx="865.5" cy="544.5" r="2.1"/>
<circle cx="882.5" cy="544.5" r="2.1"/>
<circle cx="900.5" cy="542.5" r="2.1"/>
<circle cx="917.5" cy="543.5" r="2.1"/>
<circle cx="935.5" cy="540.5" r="2.1"/>
<circle cx="952.5" cy="542.5" r="2.1"/>
<circle cx="970.5" cy="543.5" r="2.1"/>
</g>
<g fill="#000" fill-opacity="0.10"><circle cx="61.5" cy="545.5" r="2.6"/><circle cx="78.5" cy="545.5" r="2.6"/><circle cx="96.5" cy="545.5" r="2.6"/><circle cx="113.5" cy="545.5" r="2.6"/><circle cx="131.5" cy="545.5" r="2.6"/><circle cx="148.5" cy="545.5" r="2.6"/><circle cx="166.5" cy="545.5" r="2.6"/><circle cx="183.5" cy="545.5" r="2.6"/><circle cx="201.5" cy="545.5" r="2.6"/><circle cx="218.5" cy="544.5" r="2.6"/><circle cx="236.5" cy="541.5" r="2.6"/><circle cx="253.5" cy="545.5" r="2.6"/><circle cx="271.5" cy="542.5" r="2.6"/><circle cx="288.5" cy="541.5" r="2.6"/><circle cx="306.5" cy="536.5" r="2.6"/><circle cx="323.5" cy="534.5" r="2.6"/><circle cx="341.5" cy="530.5" r="2.6"/><circle cx="358.5" cy="512.5" r="2.6"/><circle cx="376.5" cy="522.5" r="2.6"/><circle cx="393.5" cy="530.5" r="2.6"/><circle cx="411.5" cy="531.5" r="2.6"/><circle cx="428.5" cy="513.5" r="2.6"/><circle cx="446.5" cy="526.5" r="2.6"/><circle cx="463.5" cy="533.5" r="2.6"/><circle cx="481.5" cy="522.5" r="2.6"/><circle cx="498.5" cy="520.5" r="2.6"/><circle cx="516.5" cy="521.5" r="2.6"/><circle cx="533.5" cy="519.5" r="2.6"/><circle cx="551.5" cy="511.5" r="2.6"/><circle cx="568.5" cy="515.5" r="2.6"/><circle cx="586.5" cy="527.5" r="2.6"/><circle cx="603.5" cy="532.5" r="2.6"/><circle cx="621.5" cy="535.5" r="2.6"/><circle cx="638.5" cy="527.5" r="2.6"/><circle cx="656.5" cy="544.5" r="2.6"/><circle cx="673.5" cy="545.5" r="2.6"/><circle cx="691.5" cy="545.5" r="2.6"/><circle cx="708.5" cy="545.5" r="2.6"/><circle cx="726.5" cy="545.5" r="2.6"/><circle cx="743.5" cy="545.5" r="2.6"/><circle cx="761.5" cy="545.5" r="2.6"/><circle cx="778.5" cy="545.5" r="2.6"/><circle cx="796.5" cy="545.5" r="2.6"/><circle cx="813.5" cy="545.5" r="2.6"/><circle cx="831.5" cy="545.5" r="2.6"/><circle cx="848.5" cy="545.5" r="2.6"/><circle cx="866.5" cy="545.5" r="2.6"/><circle cx="883.5" cy="545.5" r="2.6"/><circle cx="901.5" cy="545.5" r="2.6"/><circle cx="918.5" cy="545.5" r="2.6"/><circle cx="936.5" cy="545.5" r="2.6"/><circle cx="953.5" cy="545.5" r="2.6"/><circle cx="971.5" cy="545.5" r="2.6"/></g>
<g fill="#56B4E9" stroke="#1a5c94" stroke-width="1.0">
<circle cx="60.5" cy="544.5" r="2.1"/>
<circle cx="77.5" cy="544.5" r="2.1"/>
<circle cx="95.5" cy="544.5" r="2.1"/>
<circle cx="112.5" cy="544.5" r="2.1"/>
<circle cx="130.5" cy="544.5" r="2.1"/>
<circle cx="147.5" cy="544.5" r="2.1"/>
<circle cx="165.5" cy="544.5" r="2.1"/>
<circle cx="182.5" cy="544.5" r="2.1"/>
<circle cx="200.5" cy="544.5" r="2.1"/>
<circle cx="217.5" cy="543.5" r="2.1"/>
<circle cx="235.5" cy="540.5" r="2.1"/>
<circle cx="252.5" cy="544.5" r="2.1"/>
<circle cx="270.5" cy="541.5" r="2.1"/>
<circle cx="287.5" cy="540.5" r="2.1"/>
<circle cx="305.5" cy="535.5" r="2.1"/>
<circle cx="322.5" cy="533.5" r="2.1"/>
<circle cx="340.5" cy="529.5" r="2.1"/>
<circle cx="357.5" cy="511.5" r="2.1"/>
<circle cx="375.5" cy="521.5" r="2.1"/>
<circle cx="392.5" cy="529.5" r="2.1"/>
<circle cx="410.5" cy="530.5" r="2.1"/>
<circle cx="427.5" cy="512.5" r="2.1"/>
<circle cx="445.5" cy="525.5" r="2.1"/>
<circle cx="462.5" cy="532.5" r="2.1"/>
<circle cx="480.5" cy="521.5" r="2.1"/>
<circle cx="497.5" cy="519.5" r="2.1"/>
<circle cx="515.5" cy="520.5" r="2.1"/>
<circle cx="532.5" cy="518.5" r="2.1"/>
<circle cx="550.5" cy="510.5" r="2.1"/>
<circle cx="567.5" cy="514.5" r="2.1"/>
<circle cx="585.5" cy="526.5" r="2.1"/>
<circle cx="602.5" cy="531.5" r="2.1"/>
<circle cx="620.5" cy="534.5" r="2.1"/>
<circle cx="637.5" cy="526.5" r="2.1"/>
<circle cx="655.5" cy="543.5" r="2.1"/>
<circle cx="672.5" cy="544.5" r="2.1"/>
<circle cx="690.5" cy="544.5" r="2.1"/>
<circle cx="707.5" cy="544.5" r="2.1"/>
<circle cx="725.5" cy="544.5" r="2.1"/>
<circle cx="742.5" cy="544.5" r="2.1"/>
<circle cx="760.5" cy="544.5" r="2.1"/>
<circle cx="777.5" cy="544.5" r="2.1"/>
<circle cx="795.5" cy="544.5" r="2.1"/>
<circle cx="812.5" cy="544.5" r="2.1"/>
<circle cx="830.5" cy="544.5" r="2.1"/>
<circle cx="847.5" cy="544.5" r="2.1"/>
<circle cx="865.5" cy="544.5" r="2.1"/>
<circle cx="882.5" cy="544.5" r="2.1"/>
<circle cx="900.5" cy="544.5" r="2.1"/>
<circle cx="917.5" cy="544.5" r="2.1"/>
<circle cx="935.5" cy="544.5" r="2.1"/>
<circle cx="952.5" cy="544.5" r="2.1"/>
<circle cx="970.5" cy="544.5" r="2.1"/>
</g>
<text y="29.9" font-size="20.70" font-weight="bold" fill="#000" xml:space="preserve"><tspan x="328.08" textLength="120.35" lengthAdjust="spacingAndGlyphs">Wastewater</tspan> <tspan x="454.26" textLength="50.32" lengthAdjust="spacingAndGlyphs">Virus</tspan> <tspan x="510.45" textLength="68.44" lengthAdjust="spacingAndGlyphs">Signals</tspan> <tspan x="583.19" textLength="7.74" lengthAdjust="spacingAndGlyphs">-</tspan> <tspan x="595.36" textLength="76.98" lengthAdjust="spacingAndGlyphs">Ontario</tspan></text>
<text y="42.7" font-size="12.40" font-weight="bold" fill="#000" xml:space="preserve"><tspan x="799.76" textLength="69.87" lengthAdjust="spacingAndGlyphs">(generated:</tspan> <tspan x="871.66" textLength="22.17" lengthAdjust="spacingAndGlyphs">Sun</tspan> <tspan x="897.50" textLength="20.45" lengthAdjust="spacingAndGlyphs">Oct</tspan> <tspan x="921.68" textLength="15.88" lengthAdjust="spacingAndGlyphs">12,</tspan> <tspan x="941.27" textLength="31.65" lengthAdjust="spacingAndGlyphs">2025)</tspan></text>
<text y="614.0" font-size="11.00" font-weight="normal" fill="#444" xml:space="preserve"><tspan x="60.02" textLength="51.48" lengthAdjust="spacingAndGlyphs">wwater.ca</tspan> <tspan x="115.58" textLength="2.84" lengthAdjust="spacingAndGlyphs">•</tspan> <tspan x="122.01" textLength="22.59" lengthAdjust="spacingAndGlyphs">data</tspan> <tspan x="147.78" textLength="37.67" lengthAdjust="spacingAndGlyphs">source:</tspan> <tspan x="187.93" textLength="239.37" lengthAdjust="spacingAndGlyphs">https://health-infobase.canada.ca/wastewater/</tspan></text>
<text y="613.9" font-size="10.70" font-weight="normal" fill="#0a0a0a" xml:space="preserve"><tspan x="801.95" textLength="50.37" lengthAdjust="spacingAndGlyphs">COVID-19</tspan> <tspan x="867.01" textLength="19.83" lengthAdjust="spacingAndGlyphs">RSV</tspan> <tspan x="902.87" textLength="26.35" lengthAdjust="spacingAndGlyphs">Flu A</tspan> <tspan x="944.87" textLength="26.53" lengthAdjust="spacingAndGlyphs">Flu B</tspan></text>
<text y="0.0" font-size="12.80" font-weight="normal" fill="#1a1a1a" transform="translate(39.4,0) rotate(-90)" xml:space="preserve"><tspan x="-351.85" textLength="22.61" lengthAdjust="spacingAndGlyphs">Viral</tspan> <tspan x="-325.84" textLength="25.58" lengthAdjust="spacingAndGlyphs">Load</tspan> <tspan x="-297.93" textLength="61.25" lengthAdjust="spacingAndGlyphs">(copies/mL)</tspan></text>
<rect x="794" y="609" width="5.7" height="5.7" fill="#000" fill-opacity="0.22"/>
<rect x="793" y="608" width="5.7" height="5.7" fill="#DD6000"/>
<rect x="860" y="609" width="5.7" height="5.7" fill="#000" fill-opacity="0.22"/>
<rect x="859" y="608" width="5.7" height="5.7" fill="#000000"/>
<rect x="896" y="609" width="5.7" height="5.7" fill="#000" fill-opacity="0.22"/>
<rect x="895" y="608" width="5.7" height="5.7" fill="#D27EAE"/>
<rect x="938" y="609" width="5.7" height="5.7" fill="#000" fill-opacity="0.22"/>
<rect x="937" y="608" width="5.7" height="5.7" fill="#5AB6EA"/>
</svg></body></html>
